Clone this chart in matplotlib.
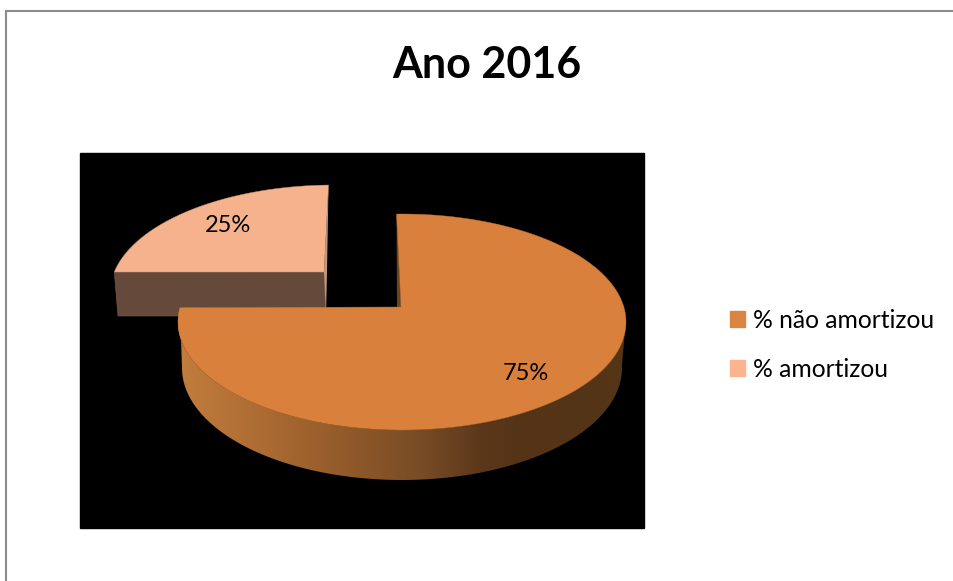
import numpy as np
import matplotlib
matplotlib.use('Agg')
import matplotlib.pyplot as plt
from matplotlib.patches import Polygon, Rectangle

title = 'Ano 2016'
labels = ['% não amortizou', '% amortizou']
values = [75, 25]
value_labels = ['75%', '25%']
top_colors = ['#d8803c', '#f5b28c']
legend_colors = ['#d9843f', '#fbb48e']

# 3D look: pixel layout of each slice (image coords, y going down)
centers = [(402, 322), (334, 293)]
apexes = [(401, 307), (324, 272)]
radius = (224, 108)
skew = [9, 12.6]   # perspective bends the angles a bit
label_pos = [(526, 374), (228, 225)]

# colours of the side wall going left to right
wall_x = [180, 240, 300, 360, 420, 480, 520, 630]
wall_r = [0.76, 0.70, 0.63, 0.55, 0.47, 0.36, 0.33, 0.33]
wall_g = [0.49, 0.44, 0.39, 0.34, 0.30, 0.22, 0.20, 0.21]
wall_b = [0.24, 0.21, 0.18, 0.16, 0.15, 0.10, 0.09, 0.09]


def angles(a0, a1, k):
    a = np.linspace(a0, a1, 200)
    return np.radians(a - 1.4 - k * np.sin(np.radians(a)))


def rim(t, cx, cy, rx, ry):
    return np.column_stack([cx + rx * np.sin(t), cy - ry * np.cos(t)])


fig = plt.figure(figsize=(9.54, 5.81), dpi=100)
ax = fig.add_axes([0, 0, 1, 1])
ax.set_xlim(0, 954)
ax.set_ylim(581, 0)
ax.axis('off')

# outer chart frame, cut by the picture on the right and at the bottom
ax.plot([6.5, 6.5, 954], [581, 10.5, 10.5], color='#8c8c8c', lw=1.5, solid_joinstyle='miter')
ax.add_patch(Rectangle((80, 153), 564, 375, color='black', zorder=1))

fractions = np.cumsum([0] + values) / sum(values) * 360

# small slice, drawn first as the big one covers it
t = angles(fractions[1], fractions[2], skew[1])
arc = rim(t, *centers[1], *radius)
ax.add_patch(Polygon([arc[0], apexes[1], (326, 316), (118, 316)], fc='#654a3b', ec='#7a5c4a', lw=0.4, zorder=2))
ax.add_patch(Polygon([arc[-1], apexes[1], (326, 316), (327, 271)], color='#c8977a', lw=0, zorder=2))
ax.add_patch(Polygon(np.vstack([arc, [apexes[1]]]), fc=top_colors[1], ec='#c49474', lw=0.3, zorder=3))

# big slice: the wall is a gradient clipped to the shape between both rims
t = angles(fractions[0], fractions[1], skew[0])
arc = rim(t, *centers[0], *radius)
t_wall = t[t > np.radians(88)]
upper = rim(t_wall, *centers[0], *radius)
lower = rim(t_wall[t_wall <= np.radians(270)], 402, 368, 220, 112)
wall_shape = Polygon(np.vstack([upper, [(181, 337)], lower[::-1]]), transform=ax.transData)
xs = np.arange(178, 630)
grad = np.dstack([np.interp(xs, wall_x, wall_r), np.interp(xs, wall_x, wall_g), np.interp(xs, wall_x, wall_b)])
im = ax.imshow(grad, extent=(178, 630, 490, 300), aspect='auto', zorder=4)
im.set_clip_path(wall_shape)
ax.set_xlim(0, 954)
ax.set_ylim(581, 0)

ax.add_patch(Polygon([arc[0], (401, 307), (397, 307)], color='#6b4520', lw=0, zorder=4))
ax.add_patch(Polygon(np.vstack([arc, [apexes[0]]]), fc=top_colors[0], ec='#c0743a', lw=0.3, zorder=5))

for pos, txt in zip(label_pos, value_labels):
    ax.text(pos[0], pos[1], txt, family='Lato', fontsize=17, color='black', ha='center', va='center', zorder=6)

ax.text(487, 65, title, family='Lato', fontsize=31, fontweight='bold', color='black', ha='center', va='center')

handles = [Rectangle((0, 0), 1, 1, color=c) for c in legend_colors]
ax.legend(handles, labels, loc='upper left', bbox_to_anchor=(708 / 954, 1 - 286.5 / 581),
          bbox_transform=fig.transFigure, frameon=False, prop={'family': 'Lato', 'size': 17.7},
          handlelength=0.6, handleheight=0.6, handletextpad=0.32, labelspacing=1.06, borderpad=0.4)

fig.savefig('out.png', dpi=100)
